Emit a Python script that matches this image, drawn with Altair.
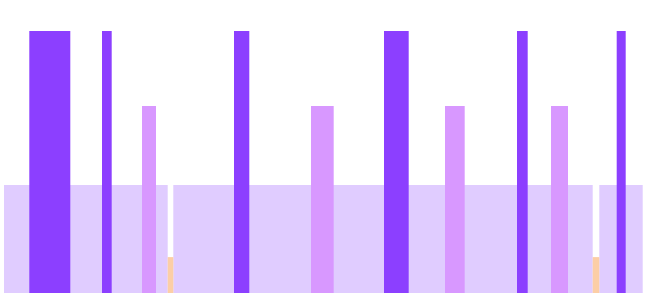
import altair as alt
import pandas as pd

# Layer categories (drawn back to front)
categories = ["band", "gap", "mid", "peak"]
heights = [41.2, 13.7, 71.4, 100.0]
colors = ["#e0ccff", "#fccea6", "#d898ff", "#8c3fff"]

band_start = [0.0, 169.3, 595.3]
band_end = [163.7, 588.7, 638.7]
gap_start = [163.7, 588.7]
gap_end = [169.3, 595.3]
mid_start = [138.0, 307.0, 441.0, 547.0]
mid_end = [152.0, 329.7, 460.7, 564.0]
peak_start = [25.3, 98.0, 230.0, 380.0, 513.0, 612.7]
peak_end = [66.3, 107.7, 245.3, 404.7, 523.7, 621.7]

starts = [band_start, gap_start, mid_start, peak_start]
ends = [band_end, gap_end, mid_end, peak_end]

rows = []
order = 0
for cat, h, s_list, e_list in zip(categories, heights, starts, ends):
    for s, e in zip(s_list, e_list):
        rows.append({"cat": cat, "x0": s, "x1": e, "v": h, "base": 0.0, "ord": order})
        order += 1
df = pd.DataFrame(rows)

chart = alt.Chart(df).mark_rect().encode(
    x=alt.X("x0:Q", scale=alt.Scale(domain=[0, 640], nice=False, zero=False), axis=None),
    x2="x1:Q",
    y=alt.Y("v:Q", scale=alt.Scale(domain=[0, 100], nice=False), axis=None),
    y2="base:Q",
    color=alt.Color("cat:N", scale=alt.Scale(domain=categories, range=colors), legend=None),
    order=alt.Order("ord:Q"),
).properties(
    width=640,
    height=262,
    autosize=alt.AutoSizeParams(type="none"),
    padding={"left": 4, "right": 4, "top": 31, "bottom": 5},
).configure_view(stroke=None)

chart.save("out.html", embed_options={"renderer": "svg", "actions": False})
